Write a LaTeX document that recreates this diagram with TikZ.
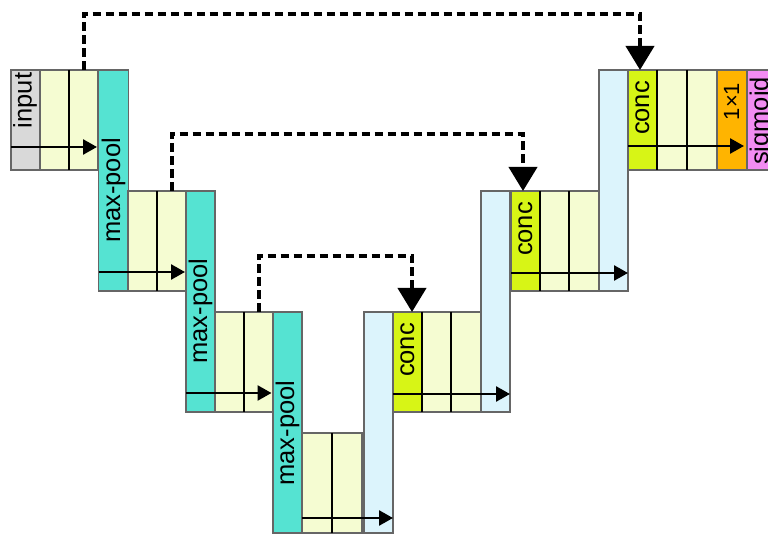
\documentclass[tikz,border=0pt]{standalone}
\usepackage{fontspec}
\setmainfont{Liberation Sans}
\usetikzlibrary{arrows.meta}
\definecolor{cIn}{HTML}{D9D9D9}
\definecolor{cYel}{HTML}{F5FCD2}
\definecolor{cPool}{HTML}{55E3D2}
\definecolor{cUp}{HTML}{DCF4FC}
\definecolor{cConc}{HTML}{D7F516}
\definecolor{cOne}{HTML}{FFB400}
\definecolor{cSig}{HTML}{F28CF2}
\begin{document}
\begin{tikzpicture}[x=1pt,y=-1pt,
  cell/.style={draw=black!60, line width=1.1pt, inner sep=0pt, outer sep=0pt, anchor=north west, minimum width=29pt, minimum height=100pt},
  tall/.style={cell, minimum height=221pt},
  sepline/.style={draw=black, line width=1.5pt},
  lbl/.style={rotate=90, font=\fontsize{25.5}{25.5}\selectfont, inner sep=0pt},
  flow/.style={line width=2.6pt, -{Triangle[length=14pt,width=15pt]}},
  skip/.style={line width=4pt, dash pattern=on 8.5pt off 4.5pt, -{Triangle[length=24pt,width=28pt]}},
]
\useasboundingbox (0,0) rectangle (768,534);
\clip (0,0) rectangle (768,534);
% ---- contracting path
\node[cell, fill=cIn] (in) at (11,70) {};
\node[cell, fill=cYel] (y1a) at (40,70) {};
\node[cell, fill=cYel] (y1b) at (69,70) {};
\node[tall, fill=cPool, minimum width=30pt] (mp1) at (98.5,70) {};
\node[cell, fill=cYel] (y2a) at (128,191) {};
\node[cell, fill=cYel] (y2b) at (157,191) {};
\node[tall, fill=cPool] (mp2) at (186,191) {};
\node[cell, fill=cYel] (y3a) at (215,312) {};
\node[cell, fill=cYel] (y3b) at (244,312) {};
\node[tall, fill=cPool] (mp3) at (273,312) {};
\node[cell, fill=cYel, minimum width=30pt] (y4a) at (302,433) {};
\node[cell, fill=cYel, minimum width=30pt] (y4b) at (332,433) {};
% ---- expanding path
\node[tall, fill=cUp] (up1) at (364,312) {};
\node[cell, fill=cConc] (conc3) at (393,312) {};
\node[cell, fill=cYel] (y5a) at (422,312) {};
\node[cell, fill=cYel, minimum width=30pt] (y5b) at (451,312) {};
\node[tall, fill=cUp] (up2) at (481,191) {};
\node[cell, fill=cConc] (conc2) at (511,191) {};
\node[cell, fill=cYel] (y6a) at (540,191) {};
\node[cell, fill=cYel, minimum width=30pt] (y6b) at (569,191) {};
\node[tall, fill=cUp] (up3) at (599,70) {};
\node[cell, fill=cConc] (conc1) at (628,70) {};
\node[cell, fill=cYel, minimum width=30pt] (y7a) at (657,70) {};
\node[cell, fill=cYel, minimum width=30pt] (y7b) at (687,70) {};
\node[cell, fill=cOne, minimum width=30pt] (one) at (717,70) {};
\node[cell, fill=cSig, minimum width=40pt] (sig) at (747,70) {};
% ---- dark separators
\foreach \c in {y1a,y2a,y3a,y4a,conc3,y5a,conc2,y6a,conc1,y7a}
  \draw[sepline] (\c.north east) -- (\c.south east);
% ---- labels
\node[lbl] (tin) at (25,100.5) {input};
\node[lbl] (tmp1) at (113.5,190.5) {max-pool};
\node[lbl] (tmp2) at (200.5,311) {max-pool};
\node[lbl] (tmp3) at (287.5,433) {max-pool};
\node[lbl] (tc3) at (407.5,350) {conc};
\node[lbl] (tc2) at (525.5,229) {conc};
\node[lbl] (tc1) at (642.5,108) {conc};
\node[lbl, font=\fontsize{22}{22}\selectfont] (tone) at (731.5,101.5) {1×1};
\node[lbl] (tsig) at (761.5,121) {sigmoid};
% ---- flow arrows
\coordinate (e1) at ([yshift=-77pt,xshift=-1.5pt]mp1.north west);
\coordinate (e2) at ([yshift=-81pt,xshift=-1pt]mp2.north west);
\coordinate (e3) at ([yshift=-81pt,xshift=-1.5pt]mp3.north west);
\coordinate (e4) at ([yshift=-85pt]y4a.north west);
\coordinate (e5) at ([yshift=-82pt]conc3.north west);
\coordinate (e6) at ([yshift=-82pt]conc2.north west);
\coordinate (e7) at ([yshift=-76pt]conc1.north west);
\draw[flow] (in.west |- e1) -- (e1);
\draw[flow] (mp1.west |- e2) -- (e2);
\draw[flow] (mp2.west |- e3) -- (e3);
\draw[flow] (e4) -- (up1.east |- e4);
\draw[flow] (e5) -- (up2.east |- e5);
\draw[flow] (e6) -- (up3.east |- e6);
\draw[flow] (e7) -- ([xshift=-3pt]one.east |- e7);
% ---- skip connections
\draw[skip] (y1b.north) -- ++(0,-56) -| ([xshift=-2.5pt]conc1.north);
\draw[skip] (y2b.north) -- ++(0,-57) -| ([xshift=-2.5pt]conc2.north);
\draw[skip] (y3b.north) -- ++(0,-56) -| ([xshift=4.5pt]conc3.north);
\end{tikzpicture}
\end{document}
